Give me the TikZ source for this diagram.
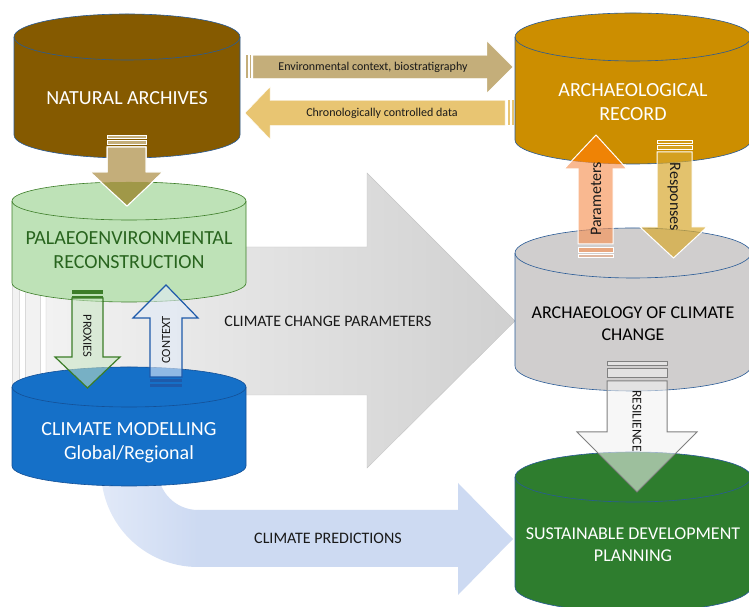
\documentclass[tikz,border=0pt]{standalone}
\usepackage{fontspec}
\setmainfont{Carlito}

\definecolor{archbrown}{RGB}{133,90,0}
\definecolor{archgold}{RGB}{204,142,0}
\definecolor{palaeofill}{RGB}{190,226,183}
\definecolor{palaeoline}{RGB}{60,125,40}
\definecolor{palaeotext}{RGB}{40,100,30}
\definecolor{modelblue}{RGB}{21,112,200}
\definecolor{modelline}{RGB}{20,80,150}
\definecolor{accgray}{RGB}{208,206,206}
\definecolor{sdpgreen}{RGB}{46,125,46}
\definecolor{rimblue}{RGB}{40,90,150}
\definecolor{envtan}{RGB}{196,174,122}
\definecolor{olivedark}{RGB}{160,152,72}
\definecolor{chronogold}{RGB}{232,197,114}
\definecolor{predblue}{RGB}{205,218,242}
\definecolor{predlight}{RGB}{225,233,248}
\definecolor{ccplight}{RGB}{242,242,242}
\definecolor{ccpdark}{RGB}{208,208,208}
\definecolor{proxyfill}{RGB}{200,230,195}
\definecolor{contextfill}{RGB}{225,235,248}
\definecolor{contextline}{RGB}{30,90,170}
\definecolor{paramsalmon}{RGB}{247,147,86}
\definecolor{paramorange}{RGB}{240,130,0}
\definecolor{respgold}{RGB}{216,169,48}
\definecolor{resilfill}{RGB}{242,242,242}
\definecolor{resilline}{RGB}{128,128,128}
\definecolor{inkdark}{RGB}{25,25,25}

\tikzset{
  title/.style={align=center,font=\fontsize{20}{24}\selectfont},
  smalltitle/.style={align=center,font=\fontsize{18}{22}\selectfont},
  flowtext/.style={text=inkdark,font=\fontsize{12}{14}\selectfont},
  bigtext/.style={text=inkdark,font=\fontsize{16}{18}\selectfont},
  tagtext/.style={text=inkdark,font=\fontsize{12.5}{14}\selectfont},
  midtext/.style={text=inkdark,font=\fontsize{16}{18}\selectfont},
  rim/.style={line width=0.6pt}
}

\begin{document}
\begin{tikzpicture}[x=1pt,y=1pt]
\useasboundingbox (0,0) rectangle (749,607);
\clip (0,0) rectangle (749,607);
\fill[white] (0,0) rectangle (749,607);

\shadedraw[left color=ccplight,right color=ccpdark,draw=gray!45] (46,360) -- (367,360) -- (367,434) -- (515,286) -- (367,139) -- (367,212) -- (46,212) -- cycle;
\filldraw[fill=ccplight,draw=gray!30] (12,360) rectangle (19,212);
\filldraw[fill=ccplight,draw=gray!30] (25,360) rectangle (40,212);

\shade[left color=predlight,right color=predblue] (101,137) arc[start angle=180,end angle=270,radius=97pt] -- (198,97) arc[start angle=270,end angle=180,radius=40pt] -- cycle;
\fill[predblue] (198,40) -- (458,40) -- (458,12) -- (513,68) -- (458,124) -- (458,97) -- (198,97) -- cycle;

\filldraw[rim,fill=archbrown,draw=rimblue] (14,570) -- (14,472) arc[start angle=180,end angle=360,x radius=113pt,y radius=23pt] -- (240,570) arc[start angle=0,end angle=180,x radius=113pt,y radius=23pt] -- cycle;
\draw[rim,rimblue] (14,570) arc[start angle=180,end angle=360,x radius=113pt,y radius=23pt];

\filldraw[rim,fill=archgold,draw=rimblue,save path=\arOutline] (515,570) -- (515,467) arc[start angle=180,end angle=360,x radius=118pt,y radius=24pt] -- (751,570) arc[start angle=0,end angle=180,x radius=118pt,y radius=24pt] -- cycle;
\draw[rim,rimblue] (515,570) arc[start angle=180,end angle=360,x radius=118pt,y radius=24pt];

\filldraw[rim,fill=palaeofill,draw=palaeoline,save path=\prOutline] (12,406) -- (12,324) arc[start angle=180,end angle=360,x radius=117pt,y radius=19pt] -- (246,406) arc[start angle=0,end angle=180,x radius=117pt,y radius=19pt] -- cycle;
\draw[rim,palaeoline] (12,406) arc[start angle=180,end angle=360,x radius=117pt,y radius=19pt];

\filldraw[rim,fill=modelblue,draw=modelline] (12,220) -- (12,141) arc[start angle=180,end angle=360,x radius=117pt,y radius=20pt] -- (246,220) arc[start angle=0,end angle=180,x radius=117pt,y radius=20pt] -- cycle;
\draw[rim,modelline] (12,220) arc[start angle=180,end angle=360,x radius=117pt,y radius=20pt];

\filldraw[rim,fill=accgray,draw=rimblue] (515,354) -- (515,241) arc[start angle=180,end angle=360,x radius=118pt,y radius=25pt] -- (751,354) arc[start angle=0,end angle=180,x radius=118pt,y radius=25pt] -- cycle;
\draw[rim,rimblue] (515,354) arc[start angle=180,end angle=360,x radius=118pt,y radius=25pt];

\filldraw[rim,fill=sdpgreen,draw=rimblue] (515,130) -- (515,20) arc[start angle=180,end angle=360,x radius=118pt,y radius=25pt] -- (751,130) arc[start angle=0,end angle=180,x radius=118pt,y radius=25pt] -- cycle;
\draw[rim,rimblue] (515,130) arc[start angle=180,end angle=360,x radius=118pt,y radius=25pt];

\node[title,text=white] (na) at (127,509) {NATURAL ARCHIVES};
\node[title,text=white] (ar) at (633,505) {ARCHAEOLOGICAL\\RECORD};
\node[title,text=palaeotext] (pr) at (129,357) {PALAEOENVIRONMENTAL\\RECONSTRUCTION};
\node[title,text=white] (cm) at (129,164) {CLIMATE MODELLING\\Global/Regional};
\node[smalltitle,text=black] (acc) at (633,283) {ARCHAEOLOGY OF CLIMATE\\CHANGE};
\node[smalltitle,text=white] (sdp) at (633,62) {SUSTAINABLE DEVELOPMENT\\PLANNING};

\node[bigtext] (ccp) at (328,286) {CLIMATE CHANGE PARAMETERS};
\node[bigtext] (pred) at (328,69) {CLIMATE PREDICTIONS};

\filldraw[fill=envtan,draw=white] (253,551.5) -- (487,551.5) -- (487,566) -- (513,540) -- (487,514) -- (487,528.5) -- (253,528.5) -- cycle;
\fill[envtan] (246,551.5) rectangle (248,528.5);
\fill[envtan] (249.5,551.5) rectangle (251,528.5);
\node[flowtext] (env) at (373,540) {Environmental context, biostratigraphy};

\filldraw[fill=chronogold,draw=white] (505,506.5) -- (270,506.5) -- (270,520) -- (245,494) -- (270,468) -- (270,481.5) -- (505,481.5) -- cycle;
\fill[chronogold] (508,506.5) rectangle (510,481.5);
\fill[chronogold] (512,506.5) rectangle (514,481.5);
\node[flowtext] (chrono) at (382,494) {Chronologically controlled data};

\filldraw[fill=envtan,draw=white,line width=1pt] (107,460) -- (107,435) -- (90,435) -- (127,401) -- (163,435) -- (146,435) -- (146,460) -- cycle;
\begin{scope}
\clip[use path=\prOutline];
\fill[olivedark] (107,460) -- (107,435) -- (90,435) -- (127,401) -- (163,435) -- (146,435) -- (146,460) -- cycle;
\end{scope}
\draw[white,line width=1pt] (107,460) -- (107,435) -- (90,435) -- (127,401) -- (163,435) -- (146,435) -- (146,460) -- cycle;
\filldraw[fill=envtan,draw=white] (107,472) rectangle (146,469);
\filldraw[fill=envtan,draw=white] (107,467) rectangle (146,463);

\filldraw[fill=proxyfill,fill opacity=0.55,draw=palaeoline,line width=1.2pt] (72,309) -- (72,250) -- (55,250) -- (87.5,219) -- (120,250) -- (103,250) -- (103,309) -- cycle;
\fill[palaeoline] (72,317) rectangle (103,312.5);
\fill[palaeoline] (72,311) rectangle (103,309);
\node[tagtext,rotate=-90] (proxies) at (87.5,271) {PROXIES};

\filldraw[fill=contextfill,fill opacity=0.6,draw=contextline,line width=1.2pt] (150,230) -- (150,289) -- (133,289) -- (166,322) -- (198,289) -- (182,289) -- (182,230) -- cycle;
\fill[contextline] (150,228) rectangle (182,224.5);
\fill[contextline] (150,223) rectangle (182,219.5);
\node[tagtext,rotate=90] (context) at (166,267) {CONTEXT};

\fill[paramsalmon,fill opacity=0.65] (578,363) -- (578,438) -- (564,438) -- (596,472) -- (627,438) -- (613,438) -- (613,363) -- cycle;
\begin{scope}
\clip[use path=\arOutline];
\fill[paramorange,fill opacity=0.9] (578,363) -- (578,438) -- (564,438) -- (596,472) -- (627,438) -- (613,438) -- (613,363) -- cycle;
\end{scope}
\draw[white,line width=1pt] (578,363) -- (578,438) -- (564,438) -- (596,472) -- (627,438) -- (613,438) -- (613,363) -- cycle;
\filldraw[fill=paramsalmon,fill opacity=0.65,draw=white] (578,360) rectangle (613,355);
\filldraw[fill=paramsalmon,fill opacity=0.4,draw=white] (578,353) rectangle (613,350);
\node[midtext,rotate=90] (param) at (596,408) {Parameters};

\filldraw[fill=respgold,fill opacity=0.7,draw=white,line width=1pt] (657,455) -- (657,380) -- (640,380) -- (673.5,349) -- (707,380) -- (692,380) -- (692,455) -- cycle;
\filldraw[fill=respgold,fill opacity=0.4,draw=white] (657,467) rectangle (692,464);
\filldraw[fill=respgold,fill opacity=0.7,draw=white] (657,462) rectangle (692,458);
\node[midtext,rotate=-90] (resp) at (674,410) {Responses};

\filldraw[fill=resilfill,fill opacity=0.57,draw=resilline,line width=1pt] (607,226) -- (607,175) -- (577,175) -- (637,115) -- (697,175) -- (667,175) -- (667,226) -- cycle;
\filldraw[fill=resilfill,fill opacity=0.57,draw=resilline,line width=1pt] (607,245) rectangle (667,241);
\filldraw[fill=resilfill,fill opacity=0.57,draw=resilline,line width=1pt] (607,238) rectangle (667,229);
\node[text=inkdark,font=\fontsize{13.5}{15}\selectfont,rotate=-90] (resil) at (637,186) {RESILIENCE};

\end{tikzpicture}
\end{document}
